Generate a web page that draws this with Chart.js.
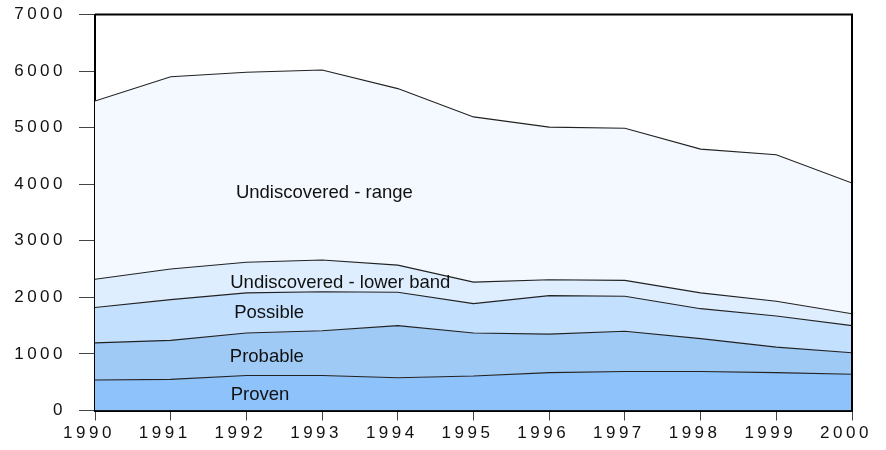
<!DOCTYPE html>
<html>
<head>
<meta charset="utf-8">
<script src="https://cdn.jsdelivr.net/npm/chart.js@4/dist/chart.umd.min.js"></script>
<style>
  html, body { margin: 0; padding: 0; background: #fff; }
  #wrap { width: 886px; height: 450px; }
</style>
</head>
<body>
<div id="wrap"><canvas id="c" width="886" height="450"></canvas></div>
<script>
// ---- data (cumulative boundary of each band) ----
const years = [1990, 1991, 1992, 1993, 1994, 1995, 1996, 1997, 1998, 1999, 2000];
const proven      = [540, 550, 620, 620, 580, 610, 670, 690, 690, 670, 640];
const probable    = [1195, 1240, 1370, 1410, 1500, 1370, 1350, 1400, 1270, 1120, 1020];
const possible    = [1820, 1960, 2080, 2100, 2090, 1890, 2030, 2020, 1800, 1670, 1500];
const lowerBand   = [2320, 2500, 2620, 2660, 2570, 2270, 2310, 2300, 2080, 1930, 1710];
const range       = [5470, 5900, 5980, 6020, 5690, 5190, 5010, 4990, 4620, 4520, 4020];
const seriesNames = ['Proven', 'Probable', 'Possible', 'Undiscovered - lower band', 'Undiscovered - range'];
const yTicks = [0, 1000, 2000, 3000, 4000, 5000, 6000, 7000];
// area label anchors (year, value)
const labelYears  = [1992.18, 1992.27, 1992.3, 1993.24, 1993.03];
const labelValues = [270, 947, 1725, 2255, 3840];

const fills = ['#8ec2fb', '#9fcaf6', '#c3e0ff', '#deeeff', '#f4f9ff'];
const allSeries = [proven, probable, possible, lowerBand, range];

const datasets = allSeries.map((arr, i) => ({
  label: seriesNames[i],
  data: arr.map((v, k) => ({ x: years[k], y: v })),
  backgroundColor: fills[i],
  borderColor: '#222',
  borderWidth: 1.1,
  pointRadius: 0,
  tension: 0,
  fill: i === 0 ? 'origin' : '-1'
}));

const FONT = "'Liberation Sans', Arial, sans-serif";

const spacingPlugin = {
  id: 'spacing',
  beforeDraw(chart) { chart.ctx.letterSpacing = '3.5px'; },
  afterDatasetsDraw(chart) {
    const ctx = chart.ctx;
    ctx.letterSpacing = '0px';
    const a = chart.chartArea;
    ctx.save();
    ctx.strokeStyle = '#000';
    ctx.lineWidth = 2;
    ctx.beginPath();
    ctx.moveTo(a.left, a.top);
    ctx.lineTo(a.right, a.top);
    ctx.lineTo(a.right, a.bottom);
    ctx.stroke();
    // area labels
    const xs = chart.scales.x, ys = chart.scales.y;
    ctx.fillStyle = '#111';
    ctx.font = '18.5px ' + FONT;
    ctx.textAlign = 'center';
    ctx.textBaseline = 'middle';
    seriesNames.forEach((n, i) => {
      ctx.fillText(n, xs.getPixelForValue(labelYears[i]), ys.getPixelForValue(labelValues[i]));
    });
    ctx.restore();
  }
};

new Chart(document.getElementById('c'), {
  type: 'line',
  data: { datasets },
  options: {
    responsive: false,
    animation: false,
    devicePixelRatio: 1,
    layout: { padding: { top: 14.5, right: 34, left: 0, bottom: 0 } },
    plugins: { legend: { display: false }, tooltip: { enabled: false }, filler: { propagate: false } },
    scales: {
      x: {
        type: 'linear',
        min: 1990, max: 2000,
        afterBuildTicks(scale) { scale.ticks = years.map(v => ({ value: v })); },
        afterFit(scale) { scale.height = 39.5; },
        ticks: {
          color: '#111',
          font: { family: FONT, size: 17 },
          padding: 3,
          labelOffset: -6,
          maxRotation: 0,
          autoSkip: false,
          callback: v => String(v)
        },
        grid: { display: true, drawOnChartArea: false, drawTicks: true, tickLength: 10, color: '#444', lineWidth: 1 },
        border: { display: true, color: '#000', width: 2 }
      },
      y: {
        min: 0, max: 7000,
        afterBuildTicks(scale) { scale.ticks = yTicks.map(v => ({ value: v })); },
        afterFit(scale) { scale.width = 95; scale.paddingTop = 0; scale.paddingBottom = 0; },
        ticks: {
          color: '#111',
          font: { family: FONT, size: 17 },
          padding: 13,
          callback: v => String(v)
        },
        grid: { display: true, drawOnChartArea: false, drawTicks: true, tickLength: 16, color: '#444', lineWidth: 1 },
        border: { display: true, color: '#000', width: 2 }
      }
    }
  },
  plugins: [spacingPlugin]
});
</script>
</body>
</html>
